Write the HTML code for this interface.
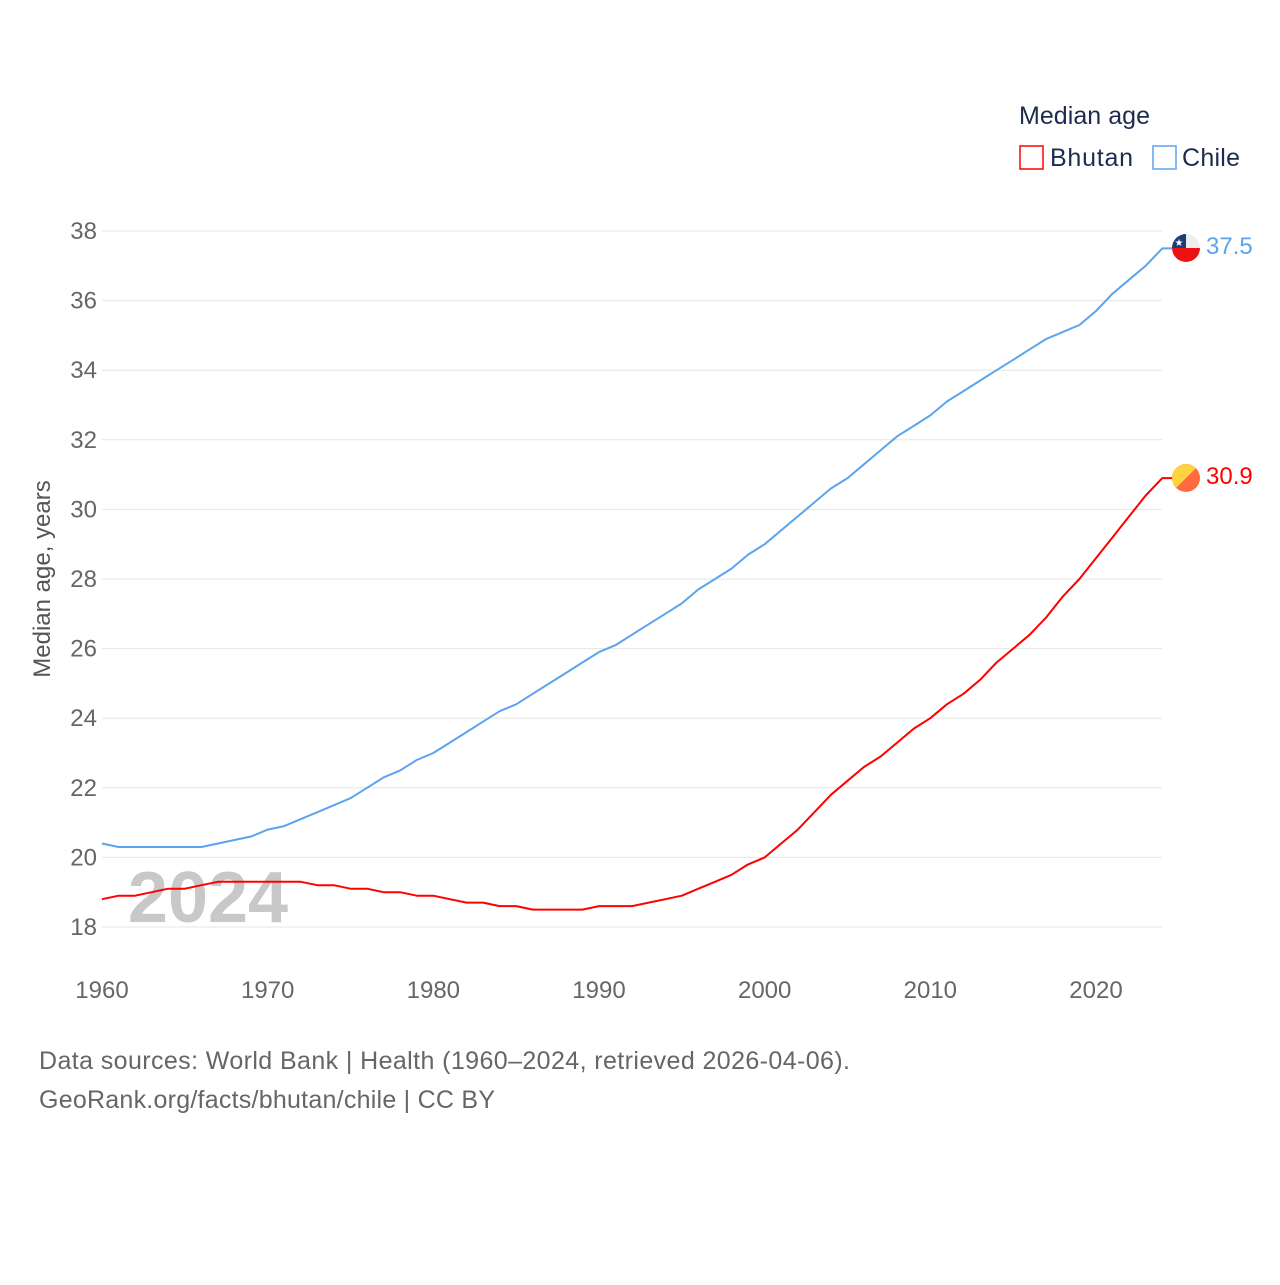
<!DOCTYPE html>
<html><head><meta charset="utf-8"><style>
body{margin:0;background:#fff;font-family:"Liberation Sans",sans-serif;}
svg text{font-family:"Liberation Sans",sans-serif;}
</style></head><body>
<svg id="chart" width="1280" height="1280" viewBox="0 0 1280 1280">
<g>
<text x="1019" y="124" font-size="25" fill="#1d2b4f" textLength="131">Median age</text>
<rect x="1020" y="146" width="23" height="23" fill="none" stroke="#f00" stroke-width="1.5"/>
<text x="1050" y="166" font-size="25" fill="#1d2b4f" textLength="83">Bhutan</text>
<rect x="1153" y="146" width="23" height="23" fill="none" stroke="#5ba4ee" stroke-width="1.5"/>
<text x="1182" y="166" font-size="25" fill="#1d2b4f" textLength="58">Chile</text>
</g>
<g id="grid"></g>
<g id="yticks"></g>
<g id="xticks"></g>
<text x="50" y="579" font-size="24" fill="#555" text-anchor="middle" transform="rotate(-90 50 579)">Median age, years</text>
<text x="208" y="922" font-size="72" font-weight="bold" fill="#c8c8c8" text-anchor="middle">2024</text>
<g id="lines"></g>
<g>
<clipPath id="c1"><circle cx="1186" cy="248" r="14"/></clipPath>
<g clip-path="url(#c1)"><rect x="1172" y="234" width="28" height="14" fill="#eee"/><rect x="1172" y="234" width="14" height="14" fill="#1d3c7a"/><rect x="1172" y="248" width="28" height="14" fill="#e11"/></g>
<text x="1179" y="246" font-size="10" fill="#fff" text-anchor="middle">★</text>
</g>
<g>
<clipPath id="c2"><circle cx="1186" cy="478" r="14"/></clipPath>
<g clip-path="url(#c2)"><rect x="1172" y="464" width="28" height="28" fill="#ff6b3d"/><polygon points="1172,464 1200,464 1172,492" fill="#ffd23f"/></g>
</g>
<text x="1206" y="254" font-size="24" fill="#5ba4ee">37.5</text>
<text x="1206" y="484" font-size="24" fill="#f00">30.9</text>
<text x="39" y="1069" font-size="25" fill="#666" textLength="811">Data sources: World Bank | Health (1960–2024, retrieved 2026-04-06).</text>
<text x="39" y="1108" font-size="25" fill="#666" textLength="456">GeoRank.org/facts/bhutan/chile | CC BY</text>
</svg>
<script>
const years=[];for(let y=1960;y<=2024;y++)years.push(y);
const chile=[20.4,20.3,20.3,20.3,20.3,20.3,20.3,20.4,20.5,20.6,20.8,20.9,21.1,21.3,21.5,21.7,22.0,22.3,22.5,22.8,23.0,23.3,23.6,23.9,24.2,24.4,24.7,25.0,25.3,25.6,25.9,26.1,26.4,26.7,27.0,27.3,27.7,28.0,28.3,28.7,29.0,29.4,29.8,30.2,30.6,30.9,31.3,31.7,32.1,32.4,32.7,33.1,33.4,33.7,34.0,34.3,34.6,34.9,35.1,35.3,35.7,36.2,36.6,37.0,37.5];
const bhutan=[18.8,18.9,18.9,19.0,19.1,19.1,19.2,19.3,19.3,19.3,19.3,19.3,19.3,19.2,19.2,19.1,19.1,19.0,19.0,18.9,18.9,18.8,18.7,18.7,18.6,18.6,18.5,18.5,18.5,18.5,18.6,18.6,18.6,18.7,18.8,18.9,19.1,19.3,19.5,19.8,20.0,20.4,20.8,21.3,21.8,22.2,22.6,22.9,23.3,23.7,24.0,24.4,24.7,25.1,25.6,26.0,26.4,26.9,27.5,28.0,28.6,29.2,29.8,30.4,30.9];
const yTicks=[18,20,22,24,26,28,30,32,34,36,38];
const xTicks=[1960,1970,1980,1990,2000,2010,2020];
const X=y=>102+(y-1960)*(994/60);
const Y=v=>927-(v-18)*34.8;
const NS="http://www.w3.org/2000/svg";
const mk=(t,a,p)=>{const e=document.createElementNS(NS,t);for(const k in a)e.setAttribute(k,a[k]);p.appendChild(e);return e;};
const grid=document.getElementById('grid'),yt=document.getElementById('yticks'),xt=document.getElementById('xticks'),lines=document.getElementById('lines');
yTicks.forEach(v=>{
 const l=mk('line',{x1:102,x2:1162,y1:Y(v),y2:Y(v),stroke:'#e6e6e6','stroke-width':1},grid);
 
 
 const t=mk('text',{x:97,y:Y(v)+8,'font-size':24,fill:'#666','text-anchor':'end'},yt);t.textContent=v;
 
 
});
xTicks.forEach(v=>{
 const t=mk('text',{x:X(v),y:998,'font-size':24,fill:'#666','text-anchor':'middle'},xt);t.textContent=v;
 
 
});
function line(vals,color,name){
 let d=vals.map((v,i)=>(i?'L':'M')+X(years[i]).toFixed(1)+','+Y(v).toFixed(1)).join(' ');
 d+=' L1172,'+Y(vals[vals.length-1]).toFixed(1);
 const p=mk('path',{d:d,fill:'none',stroke:color,'stroke-width':2,'stroke-linejoin':'round'},lines);
 
 
}
line(chile,'#5ba4ee','chile-line');
line(bhutan,'#f00','bhutan-line');
</script>
</body></html>
